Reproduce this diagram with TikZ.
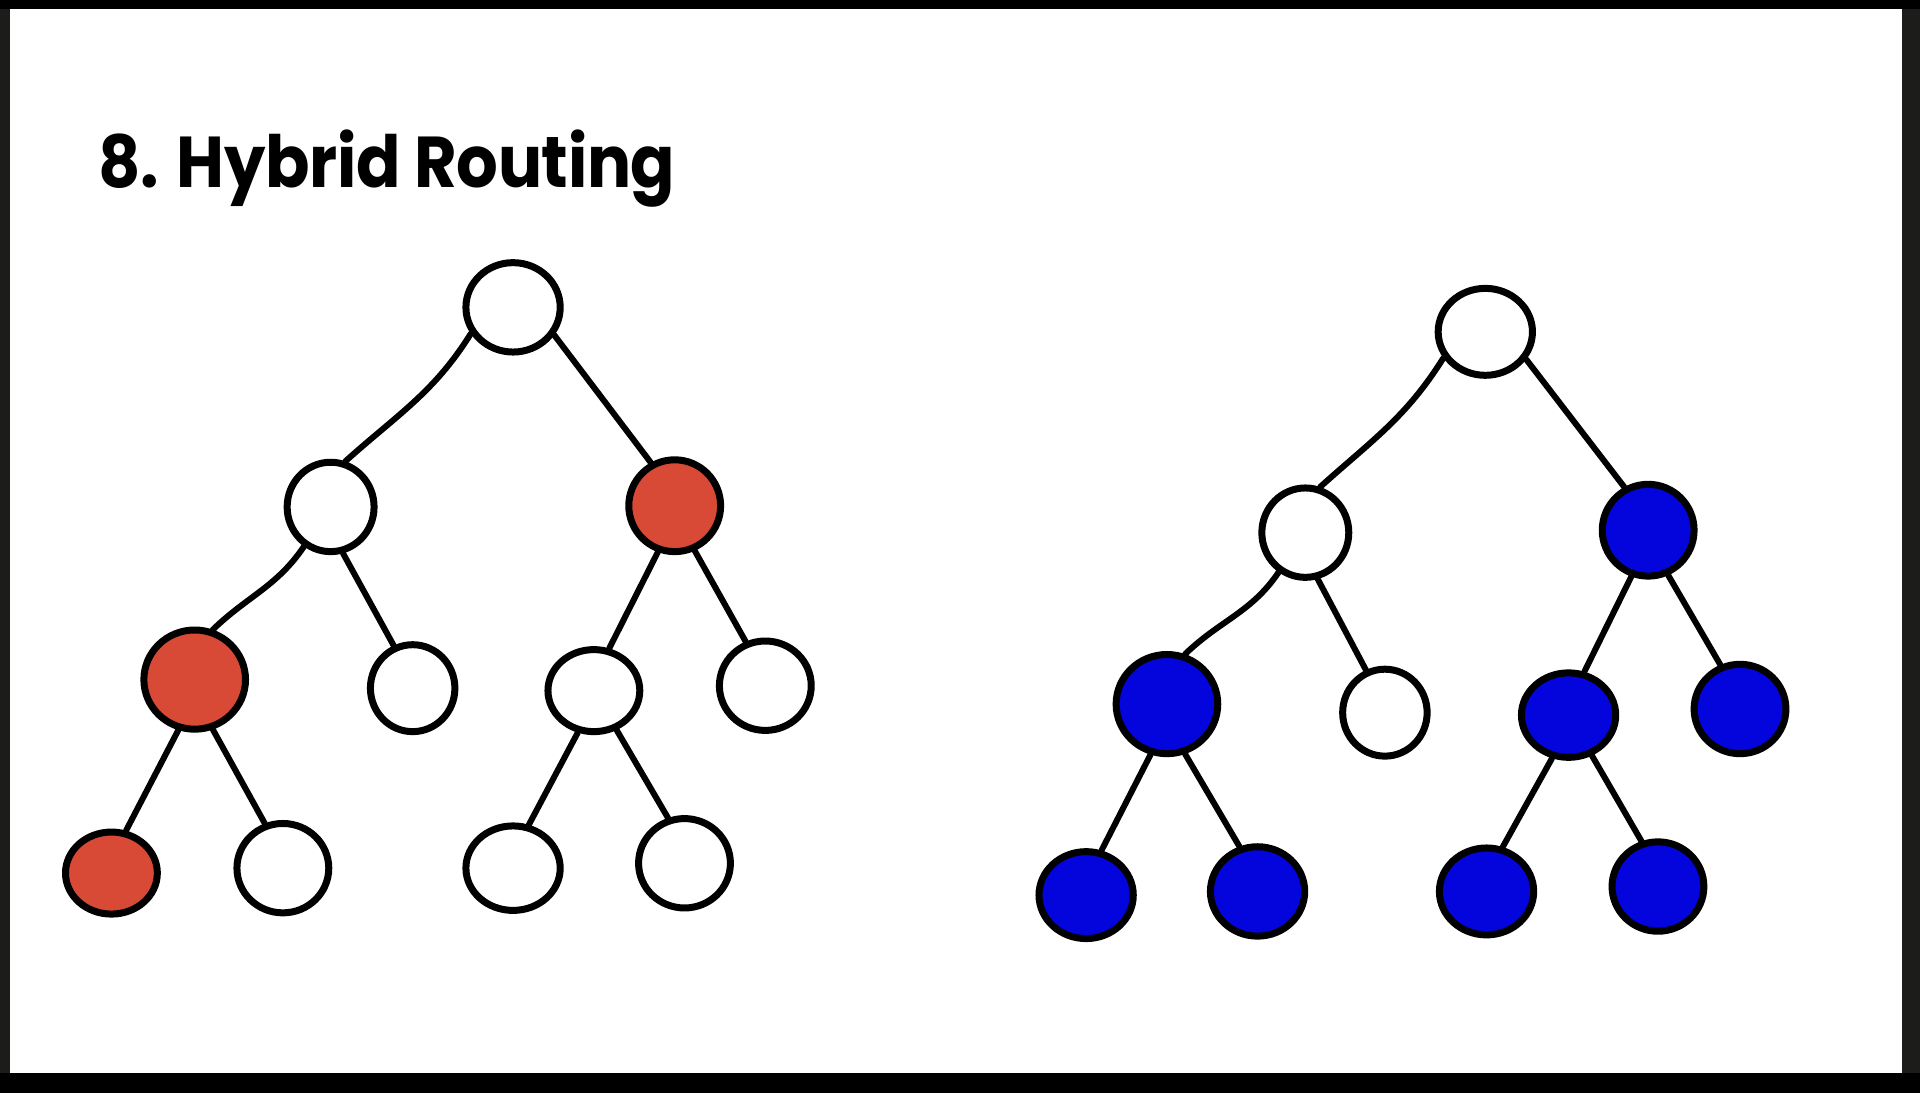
\documentclass[tikz,border=0pt]{standalone}
\usepackage{fontspec}
\newfontfamily\titlefont{Poppins}[UprightFont=* Bold, FakeStretch=0.91, LetterSpace=-0.5]
\usetikzlibrary{shapes.geometric}
\definecolor{framedark}{HTML}{1C1C1A}
\definecolor{nodered}{HTML}{D94A36}
\definecolor{nodeblue}{HTML}{0404DC}
\tikzset{
  tn/.style={ellipse, draw=black, line width=3.5pt, fill=white, inner sep=0pt},
  rn/.style={tn, fill=nodered},
  bn/.style={tn, fill=nodeblue},
  sz/.style 2 args={minimum width=#1*0.61225pt, minimum height=#2*0.61225pt},
  ed/.style={line width=3pt, line cap=round}
}
\begin{document}
\begin{tikzpicture}[x=0.61225pt, y=-0.61225pt]
\useasboundingbox (0,0) rectangle (1568,893);
\fill[framedark] (0,0) rectangle (1568,893);
\fill[black] (0,0) rectangle (1568,7);
\fill[black] (0,876) rectangle (1568,893);
\fill[white] (8,7) rectangle (1553,876);
\node[anchor=base west, inner sep=0pt, font=\titlefont\fontsize{36pt}{40pt}\selectfont] (title) at (80,153) {8. Hybrid Routing};
% left tree
\node[tn, sz={77}{73}] (a0) at (419,251) {};
\node[tn, sz={71}{73}] (a1) at (270,414) {};
\node[rn, sz={75}{75}] (a2) at (551,413) {};
\node[rn, sz={83}{81}] (a3) at (159,555) {};
\node[tn, sz={69}{71}] (a4) at (337,562) {};
\node[tn, sz={75}{67}] (a5) at (485,564) {};
\node[tn, sz={75}{73}] (a6) at (625,560) {};
\node[rn, sz={75}{67}] (a7) at (91,713) {};
\node[tn, sz={75}{73}] (a8) at (231,709) {};
\node[tn, sz={77}{69}] (a9) at (419,709) {};
\node[tn, sz={75}{73}] (a10) at (559,705) {};
\draw[ed] (a0.212) to[out=238,in=42] (a1.72);
\draw[ed] (a0.-34) -- (a2.119);
\draw[ed] (a1.236) to[out=236,in=44] (a3.70);
\draw[ed] (a1.285) -- (a4.114);
\draw[ed] (a2.250) -- (a5.70);
\draw[ed] (a2.294) -- (a6.114);
\draw[ed] (a3.252) -- (a7.71);
\draw[ed] (a3.290) -- (a8.112);
\draw[ed] (a5.249) -- (a9.70);
\draw[ed] (a5.300) -- (a10.110);
% right tree
\node[tn, sz={77}{71}] (b0) at (1213,271) {};
\node[tn, sz={71}{73}] (b1) at (1066,435) {};
\node[bn, sz={75}{75}] (b2) at (1346,433) {};
\node[bn, sz={83}{81}] (b3) at (953,575) {};
\node[tn, sz={69}{71}] (b4) at (1131,582) {};
\node[bn, sz={77}{69}] (b5) at (1281,584) {};
\node[bn, sz={75}{73}] (b6) at (1421,579) {};
\node[bn, sz={77}{71}] (b7) at (887,731) {};
\node[bn, sz={77}{73}] (b8) at (1027,728) {};
\node[bn, sz={77}{71}] (b9) at (1214,728) {};
\node[bn, sz={75}{73}] (b10) at (1354,724) {};
\draw[ed] (b0.212) to[out=238,in=42] (b1.72);
\draw[ed] (b0.-34) -- (b2.119);
\draw[ed] (b1.236) to[out=236,in=44] (b3.70);
\draw[ed] (b1.285) -- (b4.114);
\draw[ed] (b2.250) -- (b5.70);
\draw[ed] (b2.294) -- (b6.114);
\draw[ed] (b3.252) -- (b7.71);
\draw[ed] (b3.290) -- (b8.112);
\draw[ed] (b5.249) -- (b9.70);
\draw[ed] (b5.300) -- (b10.110);
\end{tikzpicture}
\end{document}
